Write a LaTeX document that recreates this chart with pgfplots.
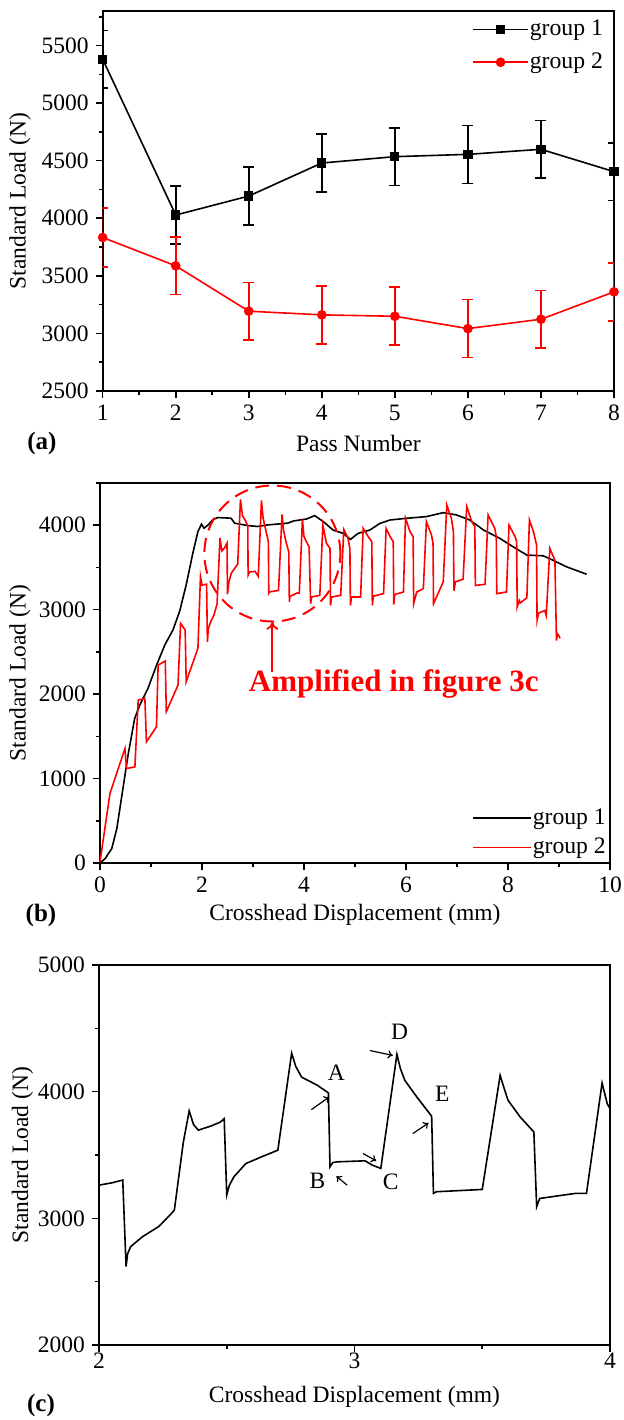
\documentclass[border=0pt]{standalone}
\usepackage{fontspec}
\setmainfont{Liberation Serif}
\usepackage{pgfplots}
\pgfplotsset{compat=1.18}
\usetikzlibrary{arrows.meta}

\pgfplotsset{
  myaxis/.style={
    scale only axis, width=255pt, height=190pt,
    axis line style={line width=1pt},
    tick align=outside, major tick length=3.5pt, minor tick length=2pt,
    every tick/.append style={line width=0.8pt, black},
    xtick pos=bottom, ytick pos=left,
    /pgf/number format/assume math mode=true,
    /pgf/number format/set thousands separator={},
    ticklabel style={font=\fontsize{11.75}{14}\selectfont},
    label style={font=\fontsize{11.75}{14}\selectfont},
    xlabel style={at={(axis description cs:0.5,-0.137)}, anchor=center},
    legend cell align=left,
  }
}

\begin{document}
\begin{tikzpicture}

%================ (a) =================
\begin{axis}[myaxis, at={(51.35pt,514.5pt)}, anchor=south west, width=255.65pt,
  xmin=1, xmax=8, ymin=2500, ymax=5800,
  xtick={1,...,8}, minor xtick={1.5,2.5,...,7.5},
  ytick={2500,3000,...,5500}, minor ytick={2750,3250,...,5750},
  xlabel={Pass Number}, ylabel={Standard Load (N)},
  ylabel style={at={(axis description cs:-0.162,0.5)}, anchor=center},
  legend style={draw=none, fill=none, at={(rel axis cs:0.722,0.982)}, anchor=north west,
    font=\fontsize{11.85}{14}\selectfont, row sep=5pt, inner sep=0pt,
    nodes={inner xsep=0.5pt, inner ysep=1pt}},
  legend image code/.code={\draw[mark repeat=2,mark phase=2,#1] plot coordinates {(0pt,0pt) (13.75pt,0pt) (27.5pt,0pt)};},
]
\addplot[black, line width=0.8pt, mark=square*, mark size=1.9pt,
  error bars/.cd, y dir=both, y explicit,
  error bar style={line width=0.8pt, black},
  error mark options={rotate=90, mark size=2.75pt, line width=0.8pt, black}]
  table[x=x, y=y, y error=e] {
x y e
1 5381 250
2 4028 250
3 4193 250
4 4480 252
5 4535 250
6 4555 252
7 4599 250
8 4405 250
};
\addlegendentry{group 1}
\addplot[red, line width=0.8pt, mark=*, mark size=2pt,
  error bars/.cd, y dir=both, y explicit,
  error bar style={line width=0.8pt, red},
  error mark options={rotate=90, mark size=2.75pt, line width=0.8pt, red}]
  table[x=x, y=y, y error=e] {
x y e
1 3833 254
2 3587 250
3 3193 250
4 3161 252
5 3149 252
6 3042 252
7 3123 250
8 3361 252
};
\addlegendentry{group 2}
\end{axis}

%================ (b) =================
\begin{axis}[myaxis, at={(50pt,278.5pt)}, anchor=south west, clip=false,
  xmin=0, xmax=10, ymin=0, ymax=4500,
  xtick={0,2,...,10}, minor xtick={1,3,...,9},
  ytick={0,1000,...,4000}, minor ytick={500,1500,...,4500},
  xlabel={Crosshead Displacement (mm)}, ylabel={Standard Load (N)},
  ylabel style={at={(axis description cs:-0.157,0.5)}, anchor=center},
  legend style={draw=none, fill=none, at={(rel axis cs:0.729,0.01)}, anchor=south west,
    font=\fontsize{11.85}{14}\selectfont, row sep=3.5pt, inner sep=0pt,
    nodes={inner xsep=0.5pt, inner ysep=1pt}},
  legend image code/.code={\draw[#1] (0pt,0pt) -- (29pt,0pt);},
]
\addplot[black, line width=0.8pt] table {
0 0
0.10 51
0.23 170
0.33 407
0.42 763
0.55 1277
0.68 1712
0.78 1870
0.94 2067
1.11 2344
1.27 2581
1.43 2759
1.56 2977
1.69 3293
1.82 3668
1.92 3925
1.99 4012
2.04 3965
2.12 4004
2.21 4064
2.31 4091
2.57 4083
2.64 4024
2.90 3996
3.09 3985
3.29 4004
3.68 4024
3.79 4050
4.05 4074
4.21 4114
4.38 4042
4.57 3943
4.77 3903
4.91 3832
5.06 3903
5.29 3943
5.49 4022
5.69 4062
6.01 4082
6.40 4102
6.73 4149
6.99 4122
7.25 4062
7.52 3943
7.84 3844
8.10 3745
8.37 3646
8.69 3638
8.88 3586
9.15 3507
9.54 3420
};
\addlegendentry{group 1}
\addplot[red, line width=0.8pt] table {
0 12
0.195 822
0.489 1356
0.52 1119
0.684 1138
0.749 1929
0.88 1949
0.91 1435
1.107 1613
1.14 2344
1.28 2392
1.30 1791
1.53 2107
1.58 2838
1.67 2759
1.69 2147
1.92 2542
1.97 3392
2.0 3290
2.09 3302
2.106 2619
2.124 2777
2.171 2856
2.233 2934
2.295 3066
2.353 3848
2.389 3696
2.44 3730
2.490 3787
2.500 3184
2.528 3328
2.575 3433
2.637 3486
2.700 3538
2.754 4304
2.793 4115
2.855 4050
2.898 3990
2.904 3407
2.932 3446
3.041 3454
3.103 3394
3.166 4294
3.197 4089
3.244 3958
3.302 3806
3.309 3197
3.321 3210
3.5 3228
3.570 4129
3.601 3932
3.648 3801
3.702 3682
3.713 3092
3.725 3157
3.865 3197
3.908 3197
3.969 4068
4.0 3866
4.05 3800
4.10 3745
4.13 3070
4.15 3150
4.31 3170
4.37 4002
4.44 3785
4.51 3725
4.52 3050
4.54 3150
4.72 3170
4.78 3950
4.86 3850
4.90 3725
4.91 3050
4.93 3150
5.11 3150
5.16 3963
5.26 3864
5.33 3805
5.34 3050
5.36 3160
5.56 3190
5.61 3963
5.69 3864
5.75 3805
5.76 3060
5.78 3180
5.95 3209
5.99 4082
6.08 3923
6.14 3864
6.15 3070
6.21 3209
6.34 3249
6.40 4042
6.50 3884
6.53 3785
6.54 3070
6.73 3330
6.80 4240
6.89 4082
6.93 3923
6.94 3225
6.97 3330
7.12 3360
7.19 4221
7.29 4042
7.35 3983
7.36 3287
7.55 3300
7.61 4122
7.74 3963
7.77 3864
7.78 3190
7.97 3209
8.02 4002
8.14 3864
8.17 3805
8.18 3031
8.22 3110
8.24 3080
8.37 3140
8.42 4062
8.50 3923
8.56 3765
8.57 2872
8.60 2960
8.72 2990
8.75 2930
8.82 3725
8.92 3587
8.95 2634
8.97 2713
9.0 2690
9.02 2660
};
\addlegendentry{group 2}
\draw[red, line width=1pt, dash pattern=on 7pt off 4pt] (axis cs:3.38,3665) circle[radius=34pt];
\draw[red, line width=0.9pt, -{To[length=4pt,width=6pt]}] (axis cs:3.38,2261) -- (axis cs:3.38,2856);
\node[red, font=\bfseries\fontsize{15.5}{18}\selectfont] at (axis cs:5.76,2118) {Amplified in figure 3c};
\end{axis}

%================ (c) =================
\begin{axis}[myaxis, at={(49.5pt,37.5pt)}, anchor=south west, width=255.5pt,
  xmin=2, xmax=4, ymin=2000, ymax=5000,
  xtick={2,3,4}, minor xtick={2.5,3.5},
  ytick={2000,3000,4000,5000}, minor ytick={2500,3500,4500},
  xticklabel style={yshift=3pt},
  xlabel={Crosshead Displacement (mm)}, ylabel={Standard Load (N)},
  ylabel style={at={(axis description cs:-0.15,0.5)}, anchor=center},
]
\addplot[black, line width=0.8pt] table {
2 3262
2.05 3280
2.093 3302
2.106 2619
2.112 2720
2.124 2777
2.171 2856
2.233 2934
2.28 3030
2.295 3066
2.33 3600
2.353 3848
2.37 3740
2.389 3696
2.44 3730
2.475 3760
2.490 3787
2.500 3184
2.51 3260
2.528 3328
2.575 3433
2.637 3486
2.700 3538
2.754 4304
2.77 4200
2.793 4115
2.855 4050
2.898 3990
2.904 3407
2.915 3440
2.932 3446
3.041 3454
3.07 3420
3.103 3394
3.166 4294
3.18 4180
3.197 4089
3.244 3958
3.302 3806
3.309 3197
3.321 3210
3.5 3228
3.570 4129
3.585 4030
3.601 3932
3.648 3801
3.702 3682
3.713 3092
3.725 3157
3.865 3197
3.908 3197
3.969 4068
3.989 3906
4.0 3866
};
\begin{scope}[font=\fontsize{11.75}{14}\selectfont]
\node at (axis cs:2.929,4147) {A};
\node at (axis cs:2.855,3297) {B};
\node at (axis cs:3.142,3289) {C};
\node at (axis cs:3.177,4470) {D};
\node at (axis cs:3.344,3984) {E};
\end{scope}
\begin{scope}[line width=0.6pt, -{To[length=2.5pt,width=4pt]}]
\draw (axis cs:2.831,3858) -- (axis cs:2.901,3958);
\draw (axis cs:2.971,3262) -- (axis cs:2.929,3333);
\draw (axis cs:3.033,3512) -- (axis cs:3.085,3454);
\draw (axis cs:3.060,4325) -- (axis cs:3.150,4286);
\draw (axis cs:3.228,3669) -- (axis cs:3.290,3753);
\end{scope}
\end{axis}

\node[font=\bfseries\fontsize{12.5}{15}\selectfont] at (21pt,488.5pt) {(a)};
\node[font=\bfseries\fontsize{12.5}{15}\selectfont] at (20.5pt,252.5pt) {(b)};
\node[font=\bfseries\fontsize{12.5}{15}\selectfont] at (20.5pt,7.5pt) {(c)};

\pgfresetboundingbox
\useasboundingbox (0,0) rectangle (311.5pt,710pt);
\end{tikzpicture}
\end{document}
